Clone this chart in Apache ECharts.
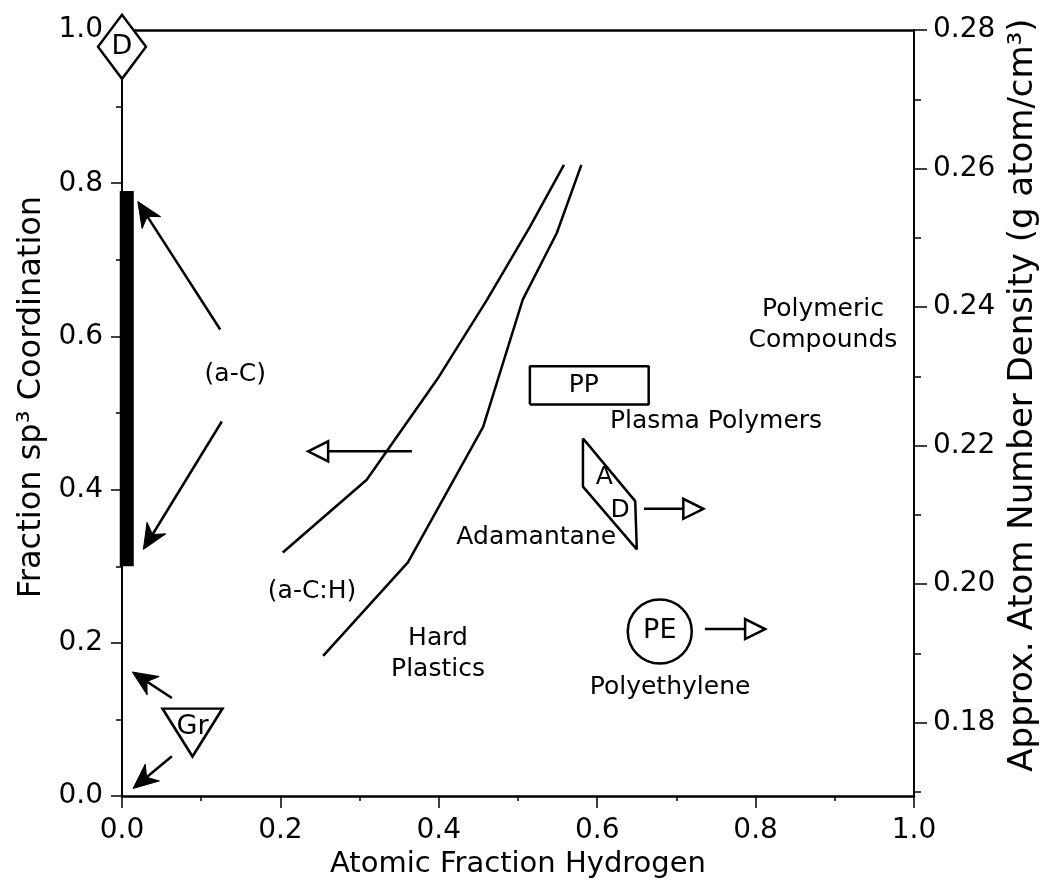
<!DOCTYPE html>
<html>
<head>
<meta charset="utf-8">
<script src="https://cdn.jsdelivr.net/npm/echarts@6/dist/echarts.min.js"></script>
<style>
  html, body { margin: 0; padding: 0; background: #fff; }
  #chart { width: 1049px; height: 884px; }
</style>
</head>
<body>
<div id="chart"></div>
<script>
// two boundary curves (a-C:H region)
var curveAX = [0.203, 0.309, 0.398, 0.461, 0.515, 0.558];
var curveAY = [0.318, 0.413, 0.544, 0.648, 0.743, 0.824];
var curveBX = [0.254, 0.361, 0.456, 0.506, 0.549, 0.580];
var curveBY = [0.183, 0.305, 0.482, 0.648, 0.735, 0.824];

// thick bar for a-C at x = 0
var barX = [0.006, 0.006];
var barY = [0.30, 0.79];

// boxes
var ppBoxX = [0.515, 0.665, 0.665, 0.515, 0.515];
var ppBoxY = [0.511, 0.511, 0.561, 0.561, 0.511];
var adBoxX = [0.582, 0.648, 0.650, 0.582, 0.582];
var adBoxY = [0.467, 0.385, 0.322, 0.404, 0.467];

// symbol markers
var markerName = ['D', 'Gr', 'PE'];
var markerX = [0.0, 0.089, 0.679];
var markerY = [0.978, 0.083, 0.215];

// arrows: start -> tip, open head or filled head
var arrowX0 = [0.124, 0.126, 0.063, 0.063, 0.366, 0.659, 0.736];
var arrowY0 = [0.609, 0.489, 0.128, 0.052, 0.450, 0.375, 0.218];
var arrowX1 = [0.020, 0.027, 0.013, 0.014, 0.235, 0.734, 0.812];
var arrowY1 = [0.776, 0.322, 0.162, 0.010, 0.450, 0.375, 0.218];
var arrowOpen = [0, 0, 0, 0, 1, 1, 1];

// text notes
var noteText = ['(a-C)', '(a-C:H)', 'Hard\nPlastics', 'Adamantane', 'Plasma Polymers',
  'Polymeric\nCompounds', 'Polyethylene', 'PP', 'A', 'D'];
var noteX = [0.143, 0.240, 0.399, 0.523, 0.750, 0.885, 0.692, 0.583, 0.609, 0.629];
var noteY = [0.550, 0.267, 0.185, 0.338, 0.489, 0.615, 0.142, 0.536, 0.416, 0.373];

// right axis (density)
var rightMajor = [0.18, 0.20, 0.22, 0.24, 0.26, 0.28];
var rightMinor = [0.17, 0.19, 0.21, 0.23, 0.25, 0.27];

var FONT = 'DejaVu Sans';

function zip(xs, ys) {
  return xs.map(function (x, i) { return [x, ys[i]]; });
}

var chart = echarts.init(document.getElementById('chart'));

function renderArrow(params, api) {
  var p0 = api.coord([api.value(0), api.value(1)]);
  var p1 = api.coord([api.value(2), api.value(3)]);
  var open = api.value(4) === 1;
  var dx = p1[0] - p0[0], dy = p1[1] - p0[1];
  var len = Math.sqrt(dx * dx + dy * dy);
  var ux = dx / len, uy = dy / len;
  var hl = open ? 20 : 25;
  var hw = open ? 10 : 11;
  var bx = p1[0] - ux * hl, by = p1[1] - uy * hl;
  var left = [bx - uy * hw, by + ux * hw];
  var right = [bx + uy * hw, by - ux * hw];
  var head;
  var shaftEnd;
  if (open) {
    head = {
      type: 'polygon',
      shape: { points: [p1, left, right] },
      style: { fill: '#fff', stroke: '#000', lineWidth: 2.5 }
    };
    shaftEnd = [bx, by];
  } else {
    var notch = [bx + ux * hl * 0.3, by + uy * hl * 0.3];
    head = {
      type: 'polygon',
      shape: { points: [p1, left, notch, right] },
      style: { fill: '#000', stroke: '#000', lineWidth: 1 }
    };
    shaftEnd = notch;
  }
  return {
    type: 'group',
    children: [
      {
        type: 'line',
        shape: { x1: p0[0], y1: p0[1], x2: shaftEnd[0], y2: shaftEnd[1] },
        style: { stroke: '#000', lineWidth: 2.5 }
      },
      head
    ]
  };
}

var arrowData = arrowX0.map(function (x, i) {
  return [x, arrowY0[i], arrowX1[i], arrowY1[i], arrowOpen[i]];
});

var markerSymbol = ['diamond', 'triangle', 'circle'];
var markerSize = [[48, 64], [60, 48], 64];
var markerRotate = [0, 180, 0];
var markerLabelOffset = [[0, 0], [0, -6], [0, 0]];

var markerData = markerName.map(function (n, i) {
  return {
    name: n,
    value: [markerX[i], markerY[i]],
    symbol: markerSymbol[i],
    symbolSize: markerSize[i],
    symbolRotate: markerRotate[i],
    label: { offset: markerLabelOffset[i] }
  };
});

var noteData = noteText.map(function (t, i) {
  return { name: t, value: [noteX[i], noteY[i]] };
});

var blackLine = { color: '#000', width: 2.5 };

var option = {
  backgroundColor: '#fff',
  animation: false,
  textStyle: { fontFamily: FONT, color: '#000' },
  grid: { left: 122, right: 135, top: 30, bottom: 87, show: false },
  xAxis: [{
    type: 'value',
    min: 0, max: 1, interval: 0.2,
    name: 'Atomic Fraction Hydrogen',
    nameLocation: 'middle',
    nameGap: 51,
    nameTextStyle: { fontSize: 29, fontFamily: FONT, color: '#000' },
    axisLine: { onZero: false, lineStyle: { color: '#000', width: 2.5 } },
    axisTick: { length: 12, lineStyle: { color: '#000', width: 1.5 } },
    minorTick: { show: true, splitNumber: 2, length: 5, lineStyle: { color: '#000', width: 1.5 } },
    axisLabel: { fontSize: 28, fontFamily: FONT, color: '#000', margin: 21,
      formatter: function (v) { return v.toFixed(1); } },
    splitLine: { show: false }
  }, {
    type: 'value',
    position: 'top',
    min: 0, max: 1,
    axisLine: { onZero: false, lineStyle: { color: '#000', width: 2.5 } },
    axisTick: { show: false },
    axisLabel: { show: false },
    splitLine: { show: false }
  }],
  yAxis: [{
    type: 'value',
    min: 0, max: 1, interval: 0.2,
    name: 'Fraction sp³ Coordination',
    nameLocation: 'middle',
    nameGap: 72,
    nameTextStyle: { fontSize: 32, fontFamily: FONT, color: '#000', padding: [0, 0, 0, 32] },
    axisLine: { onZero: false, lineStyle: { color: '#000', width: 2 } },
    axisTick: { length: 11, lineStyle: { color: '#000', width: 1.5 } },
    minorTick: { show: true, splitNumber: 2, length: 6, lineStyle: { color: '#000', width: 1.5 } },
    axisLabel: { fontSize: 28, fontFamily: FONT, color: '#000', margin: 19,
      formatter: function (v) { return v.toFixed(1); } },
    splitLine: { show: false }
  }, {
    type: 'value',
    position: 'right',
    min: 0.1694, max: 0.28,
    name: 'Approx. Atom Number Density (g atom/cm³)',
    nameLocation: 'middle',
    nameGap: 88,
    nameTextStyle: { fontSize: 34, fontFamily: FONT, color: '#000', padding: [0, 0, 0, 36] },
    axisLine: { onZero: false, lineStyle: { color: '#000', width: 2 } },
    axisTick: { length: 13, customValues: rightMajor, lineStyle: { color: '#000', width: 1.5 } },
    axisLabel: { fontSize: 28, fontFamily: FONT, color: '#000', margin: 19,
      customValues: rightMajor,
      formatter: function (v) { return v.toFixed(2); } },
    splitLine: { show: false }
  }, {
    type: 'value',
    position: 'right',
    min: 0.1694, max: 0.28,
    axisLine: { show: false, onZero: false },
    axisTick: { length: 7, customValues: rightMinor, lineStyle: { color: '#000', width: 1.5 } },
    axisLabel: { show: false },
    splitLine: { show: false }
  }],
  series: [
    {
      type: 'line', data: zip(curveAX, curveAY), showSymbol: false, symbol: 'none',
      lineStyle: blackLine, z: 3
    },
    {
      type: 'line', data: zip(curveBX, curveBY), showSymbol: false, symbol: 'none',
      lineStyle: blackLine, z: 3
    },
    {
      type: 'line', data: zip(barX, barY), showSymbol: false, symbol: 'none', clip: false,
      lineStyle: { color: '#000', width: 14, cap: 'butt' }, z: 3
    },
    {
      type: 'line', data: zip(ppBoxX, ppBoxY), showSymbol: false, symbol: 'none',
      lineStyle: blackLine, z: 3
    },
    {
      type: 'line', data: zip(adBoxX, adBoxY), showSymbol: false, symbol: 'none',
      lineStyle: blackLine, z: 3
    },
    {
      type: 'custom',
      coordinateSystem: 'cartesian2d',
      renderItem: renderArrow,
      data: arrowData,
      encode: { x: [0, 2], y: [1, 3] },
      clip: false,
      z: 4
    },
    {
      type: 'scatter',
      data: markerData,
      clip: false,
      itemStyle: { color: '#fff', borderColor: '#000', borderWidth: 2.5, opacity: 1 },
      label: {
        show: true, position: 'inside', color: '#000',
        fontSize: 27, fontFamily: FONT,
        formatter: function (p) { return p.name; }
      },
      z: 5
    },
    {
      type: 'scatter',
      data: noteData,
      symbolSize: 1,
      clip: false,
      itemStyle: { color: 'rgba(0,0,0,0)', opacity: 1 },
      label: {
        show: true, position: 'inside', color: '#000',
        fontSize: 25, fontFamily: FONT, lineHeight: 31, align: 'center',
        formatter: function (p) { return p.name; }
      },
      z: 6
    }
  ]
};

chart.setOption(option);
</script>
</body>
</html>
